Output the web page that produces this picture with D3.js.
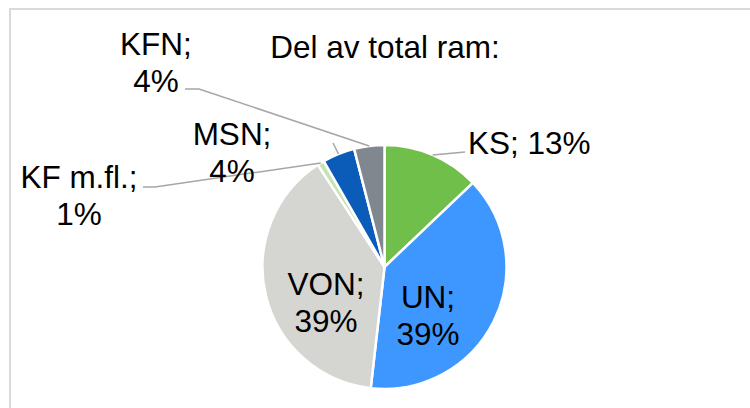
<!DOCTYPE html>
<html>
<head>
<meta charset="utf-8">
<script src="https://cdn.jsdelivr.net/npm/d3@7"></script>
<style>
  body { margin: 0; background: #fff; }
  svg text { font-family: "Liberation Sans", Arial, sans-serif; fill: #000; }
</style>
</head>
<body>
<script>
// Andelar av total ram (procent)
var categories = ['KS', 'UN', 'VON', 'KF m.fl.', 'MSN', 'KFN'];
var values = [12.9, 38.9, 39.0, 0.9, 4.3, 4.0];
var labels = ['13%', '39%', '39%', '1%', '4%', '4%'];
var colors = ['#70bf4b', '#3d97ff', '#d5d5d1', '#c5e3b3', '#0a5cb8', '#80878e'];

var width = 750, height = 408;
var cx = 384.5, cy = 267, radius = 122;
var fontSize = '31.5px';

// placering av etiketter (text + ledlinje)
var labelLayout = {
  'KS':        { lines: ['KS; 13%'], x: 468, y: 154, anchor: 'start', leader: [[465, 152]] },
  'UN':        { lines: ['UN;', '39%'], x: 428, y: 308, anchor: 'middle' },
  'VON':       { lines: ['VON;', '39%'], x: 326, y: 295, anchor: 'middle' },
  'KF m.fl.':  { lines: ['KF m.fl.;', '1%'], x: 79, y: 188, anchor: 'middle', leader: [[155, 187], [143, 187]] },
  'MSN':       { lines: ['MSN;', '4%'], x: 232, y: 145, anchor: 'middle', leader: [[333, 143]] },
  'KFN':       { lines: ['KFN;', '4%'], x: 156, y: 55, anchor: 'middle', leader: [[199, 89], [185, 89]] }
};

var svg = d3.select('body').append('svg')
  .attr('width', width)
  .attr('height', height);

// ram
svg.append('rect')
  .attr('x', 10).attr('y', 9)
  .attr('width', 800).attr('height', 500)
  .attr('fill', 'none')
  .attr('stroke', '#d9d9d9')
  .attr('stroke-width', 2);

svg.append('text')
  .attr('x', 385).attr('y', 58)
  .attr('text-anchor', 'middle')
  .style('font-size', fontSize)
  .text('Del av total ram:');

var data = categories.map(function(c, i) {
  return { name: c, value: values[i], label: labels[i], color: colors[i] };
});

var pie = d3.pie().sort(null).value(function(d) { return d.value; });
var arc = d3.arc().innerRadius(0).outerRadius(radius);
var arcs = pie(data);

var g = svg.append('g').attr('transform', 'translate(' + cx + ',' + cy + ')');

g.selectAll('path.slice')
  .data(arcs)
  .enter().append('path')
  .attr('class', 'slice')
  .attr('d', arc)
  .attr('fill', function(d) { return d.data.color; })
  .attr('stroke', '#fff')
  .attr('stroke-width', 2.5)
  .attr('stroke-linejoin', 'round');

// ledlinjer
arcs.forEach(function(d) {
  var lay = labelLayout[d.data.name];
  if (!lay.leader) return;
  var a = (d.startAngle + d.endAngle) / 2;
  var pts = [[cx + radius * Math.sin(a), cy - radius * Math.cos(a)]].concat(lay.leader);
  svg.append('path')
    .attr('d', d3.line()(pts))
    .attr('fill', 'none')
    .attr('stroke', '#a6a6a6')
    .attr('stroke-width', 1.5);
});

// etiketter
arcs.forEach(function(d) {
  var lay = labelLayout[d.data.name];
  var t = svg.append('text')
    .attr('text-anchor', lay.anchor)
    .style('font-size', fontSize);
  lay.lines.forEach(function(line, i) {
    t.append('tspan')
      .attr('x', lay.x)
      .attr('y', lay.y + i * 36.5)
      .text(line);
  });
});
</script>
</body>
</html>
